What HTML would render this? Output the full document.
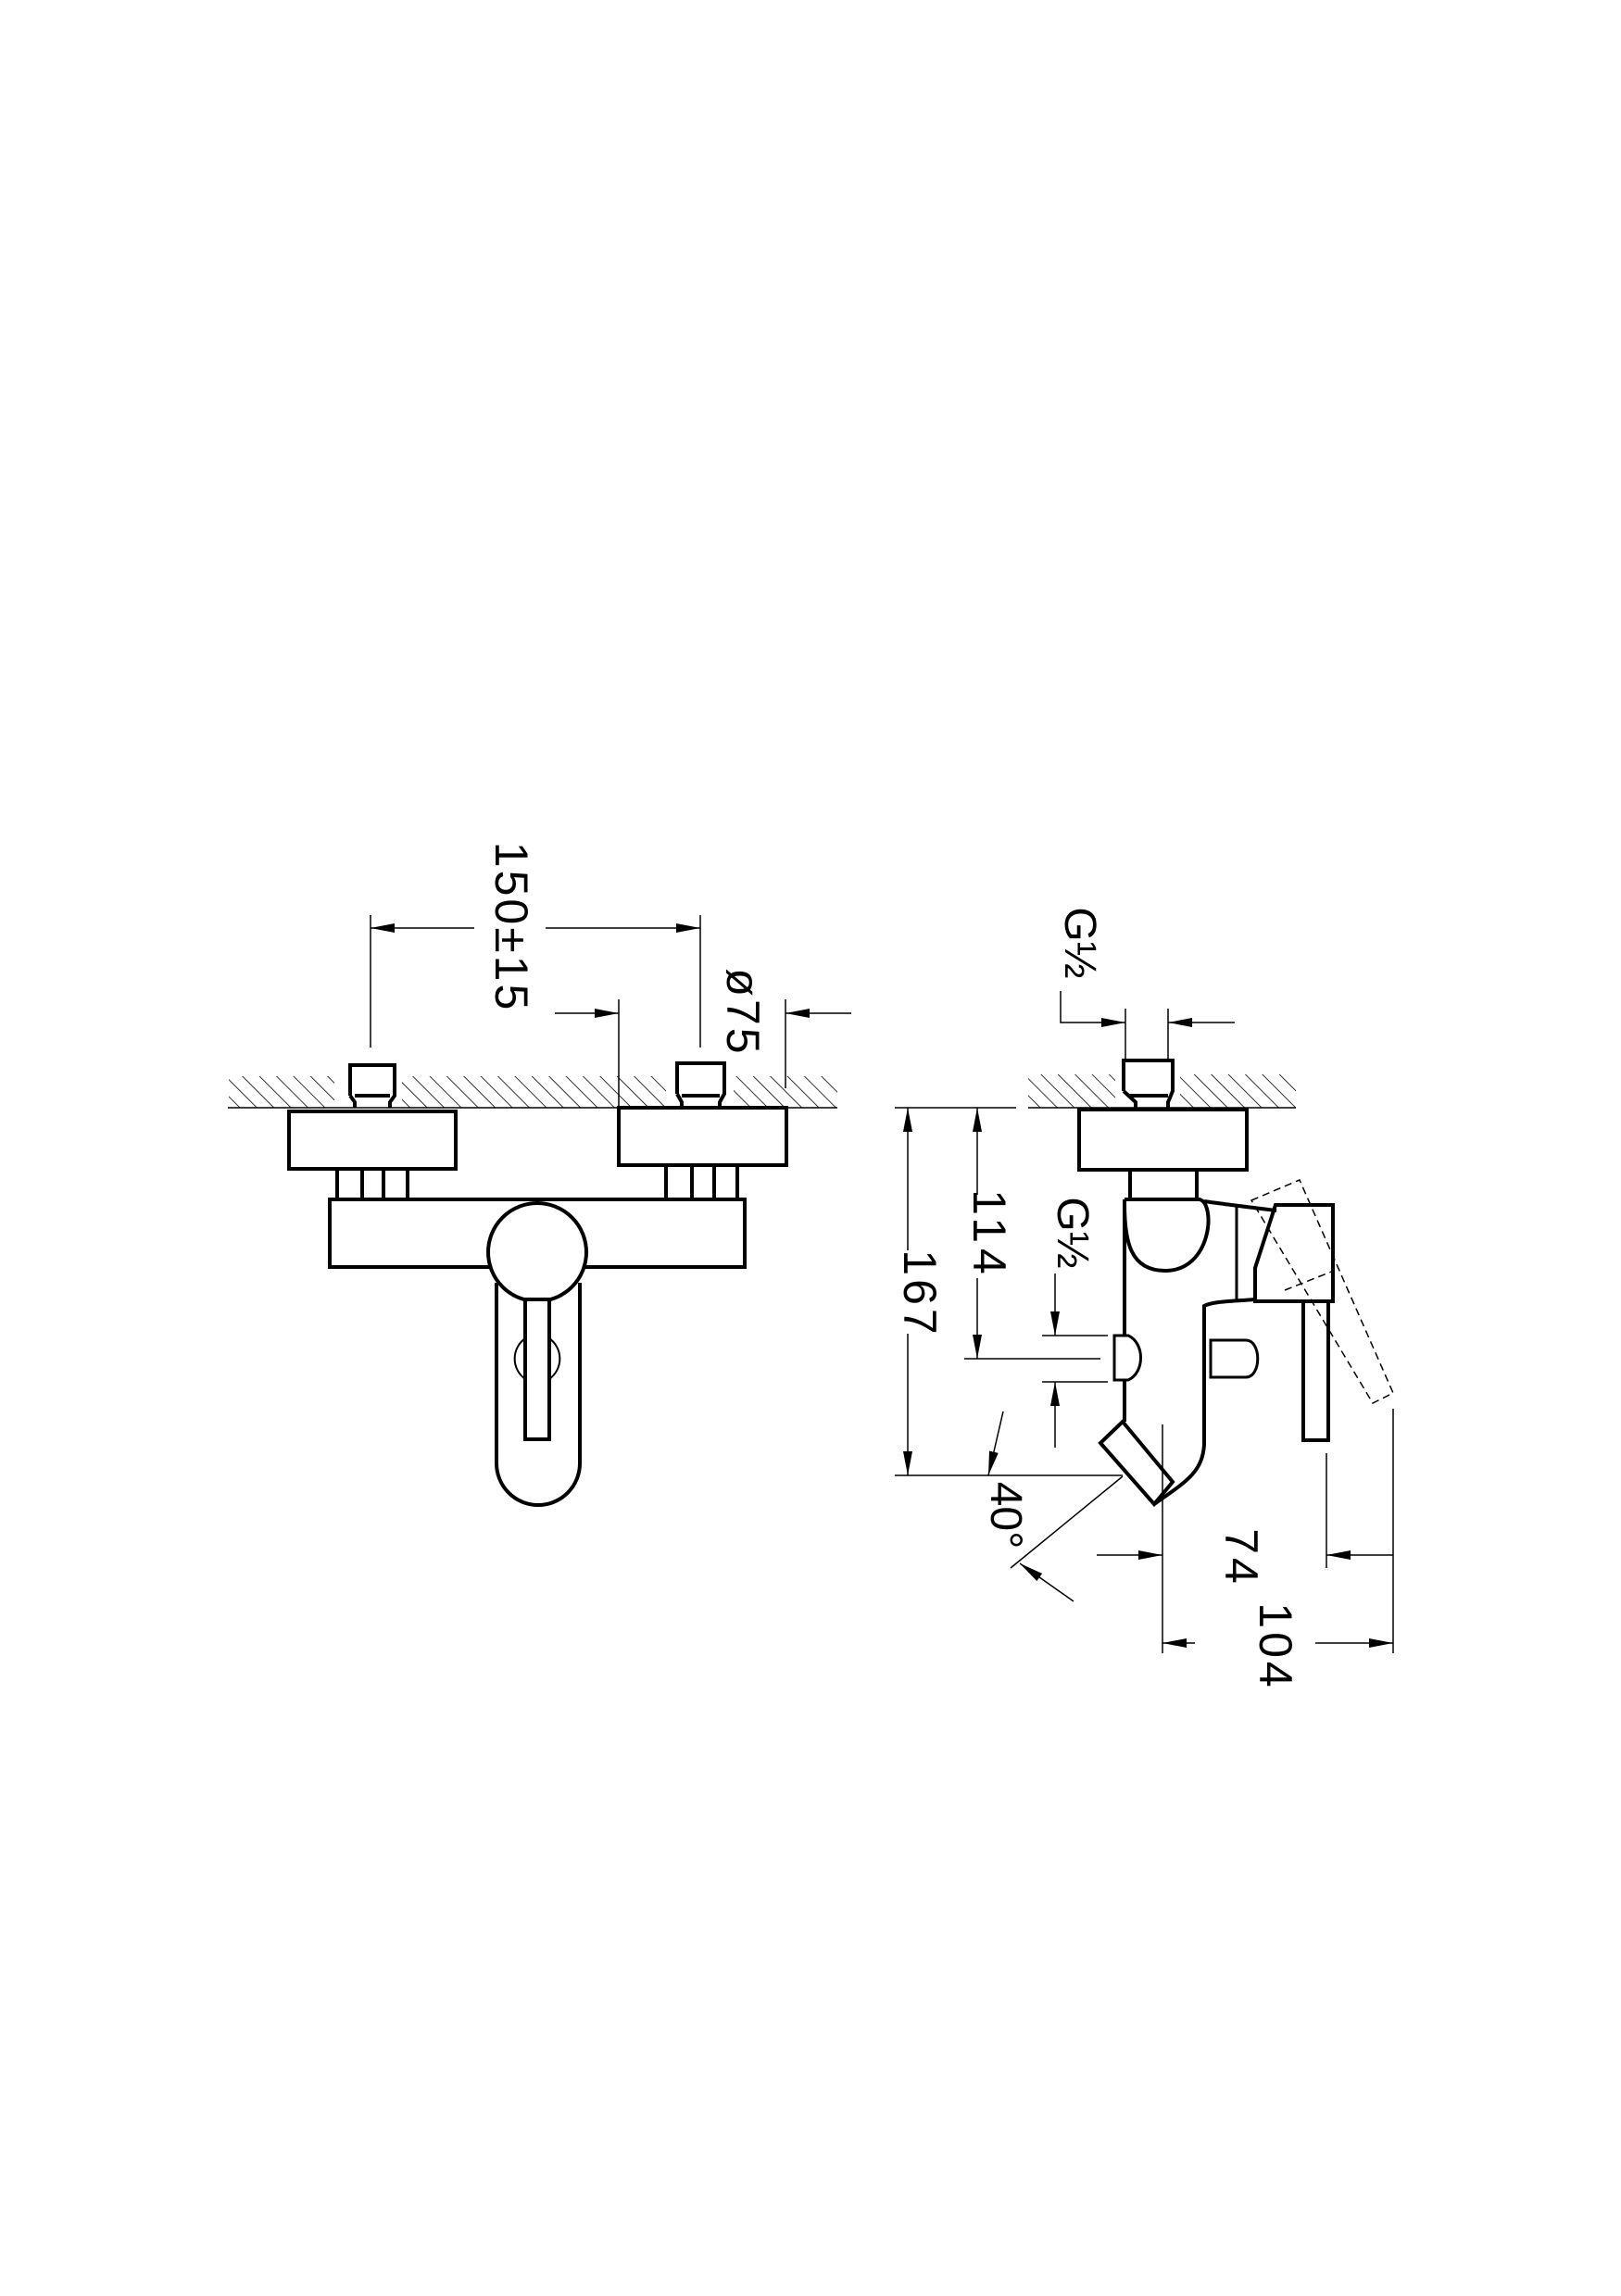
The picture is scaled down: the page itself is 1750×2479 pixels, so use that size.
<!DOCTYPE html>
<html><head><meta charset="utf-8"><style>html,body{margin:0;padding:0;background:#fff}svg{display:block}</style></head>
<body>
<svg width="1750" height="2479" viewBox="0 0 1750 2479" xmlns="http://www.w3.org/2000/svg">
<defs>
<pattern id="h" width="13" height="13" patternUnits="userSpaceOnUse" patternTransform="rotate(-45)">
<line x1="0" y1="0" x2="0" y2="13" stroke="#000" stroke-width="1.6"/>
</pattern>
<marker id="a" viewBox="0 0 26 10" refX="26" refY="5" markerWidth="26" markerHeight="10" markerUnits="userSpaceOnUse" orient="auto"><path d="M0,0 L26,5 L0,10z" fill="#000"/></marker>
</defs>
<g font-family="Liberation Sans, sans-serif" fill="#000">
<rect x="247" y="1162" width="114" height="34" fill="url(#h)"/>
<rect x="434" y="1162" width="285" height="34" fill="url(#h)"/>
<rect x="792" y="1162" width="112" height="34" fill="url(#h)"/>
<line x1="246" y1="1196" x2="904" y2="1196" stroke="#000" stroke-width="1.5"/>
<g fill="none" stroke="#000" stroke-width="4">
<path d="M378,1183 V1150 H426 V1183 L421,1190 V1196 M383,1183 H421 M378,1183 L383,1190 V1196"/>
<path d="M731,1181 V1148 H782 V1181 L777,1190 V1196 M736,1183 H777 M731,1181 L736,1190 V1196"/>
<rect x="312" y="1200" width="180" height="62"/>
<rect x="668" y="1196" width="181" height="62"/>
<path d="M364,1262 V1293 M391,1262 V1293 M414,1262 V1293 M440,1262 V1293"/>
<path d="M719,1258 V1293 M747,1258 V1293 M771,1258 V1293 M796,1258 V1293"/>
<rect x="356" y="1295" width="448" height="73"/>
<path d="M536,1385 V1580 A45,45 0 0 0 626,1580 V1385"/>
<circle cx="580" cy="1352" r="53" fill="#fff"/>
<rect x="567" y="1403" width="26" height="151" fill="#fff"/>
<path d="M567,1445 A27,27 0 0 0 567,1489 M593,1445 A27,27 0 0 1 593,1489" stroke-width="2"/>
</g>
<g stroke="#000" stroke-width="1.5" fill="none">
<line x1="400" y1="988" x2="400" y2="1131"/>
<line x1="756" y1="988" x2="756" y2="1131"/>
<line x1="512" y1="1002" x2="400" y2="1002" marker-end="url(#a)"/>
<line x1="589" y1="1002" x2="756" y2="1002" marker-end="url(#a)"/>
<line x1="668" y1="1079" x2="668" y2="1196"/>
<line x1="848" y1="1079" x2="848" y2="1175"/>
<line x1="599" y1="1094" x2="668" y2="1094" marker-end="url(#a)"/>
<line x1="919" y1="1094" x2="848" y2="1094" marker-end="url(#a)"/>
</g>
<text transform="translate(535,1001) rotate(90)" font-size="50" letter-spacing="3" text-anchor="middle">150±15</text>
<text transform="translate(785,1093) rotate(90)" font-size="50" letter-spacing="3" text-anchor="middle">ø75</text>

<rect x="1110" y="1160" width="94" height="36" fill="url(#h)"/>
<rect x="1274" y="1160" width="125" height="36" fill="url(#h)"/>
<line x1="1110" y1="1196" x2="1399" y2="1196" stroke="#000" stroke-width="1.5"/>
<g fill="none" stroke="#000" stroke-width="4">
<path d="M1213,1178 V1145 H1266 V1178 L1261,1190 V1196 M1218,1183 H1261 M1213,1178 L1226,1190 V1196"/>
<rect x="1165" y="1198" width="181" height="65"/>
<path d="M1220,1263 V1295 M1292,1263 V1295"/>
<path d="M1214,1295 H1295 C1313,1300 1308,1372 1258,1372 C1220,1372 1214,1340 1214,1300"/>
<path d="M1214,1295 V1442 M1214,1490 V1535"/>
<path d="M1300,1297 C1320,1300 1345,1303 1378,1307"/>
<path d="M1335,1303 V1403" stroke-width="3"/>
<path d="M1377,1301 H1439 V1405 H1355 V1369 Z"/>
<path d="M1407,1405 V1555 H1434 V1405"/>
<path d="M1355,1403 C1330,1405 1310,1405 1300,1410 V1560 C1298,1590 1280,1600 1246,1624"/>
<path d="M1212,1535 L1188,1558 L1246,1624 L1266,1600 Z"/>
<path d="M1203,1442 H1218 C1236,1450 1236,1482 1218,1490 H1203 Z" stroke-width="3"/>
<path d="M1307,1447 H1345 C1362,1447 1362,1487 1345,1487 H1307 Z M1300,1455 V1478" stroke-width="3"/>
</g>
<g fill="none" stroke="#000" stroke-width="1.5" stroke-dasharray="8,5">
<path d="M1351,1296 L1403,1274 L1504,1504 L1482,1515 Z"/>
<path d="M1387,1393 L1440,1372"/>
</g>
<g stroke="#000" stroke-width="1.5" fill="none">
<line x1="966" y1="1196" x2="1097" y2="1196"/>
<line x1="1041" y1="1467" x2="1188" y2="1467"/>
<line x1="966" y1="1593" x2="1212" y2="1593"/>
<line x1="980" y1="1350" x2="980" y2="1196" marker-end="url(#a)"/>
<line x1="980" y1="1440" x2="980" y2="1593" marker-end="url(#a)"/>
<line x1="1055" y1="1290" x2="1055" y2="1196" marker-end="url(#a)"/>
<line x1="1055" y1="1380" x2="1055" y2="1467" marker-end="url(#a)"/>
<line x1="1125" y1="1442" x2="1196" y2="1442"/>
<line x1="1125" y1="1492" x2="1196" y2="1492"/>
<line x1="1139" y1="1375" x2="1139" y2="1442" marker-end="url(#a)"/>
<line x1="1139" y1="1563" x2="1139" y2="1492" marker-end="url(#a)"/>
<line x1="1215" y1="1089" x2="1215" y2="1143"/>
<line x1="1261" y1="1089" x2="1261" y2="1143"/>
<path d="M1145,1070 V1104 H1215" marker-end="url(#a)"/>
<line x1="1333" y1="1104" x2="1261" y2="1104" marker-end="url(#a)"/>
<line x1="1255" y1="1538" x2="1255" y2="1785"/>
<line x1="1432" y1="1569" x2="1432" y2="1693"/>
<line x1="1504" y1="1521" x2="1504" y2="1785"/>
<line x1="1184" y1="1679" x2="1255" y2="1679" marker-end="url(#a)"/>
<line x1="1504" y1="1679" x2="1432" y2="1679" marker-end="url(#a)"/>
<line x1="1290" y1="1774" x2="1255" y2="1774" marker-end="url(#a)"/>
<line x1="1420" y1="1774" x2="1504" y2="1774" marker-end="url(#a)"/>
<line x1="1083" y1="1524" x2="1067" y2="1593" marker-end="url(#a)"/>
<line x1="1212" y1="1594" x2="1091" y2="1693"/>
<line x1="1159" y1="1729" x2="1101" y2="1688" marker-end="url(#a)"/>
</g>
<text transform="translate(1150,1018) rotate(90)" font-size="48" text-anchor="middle">G½</text>
<text transform="translate(1142,1331) rotate(90)" font-size="48" text-anchor="middle">G½</text>
<text transform="translate(976,1397) rotate(90)" font-size="50" letter-spacing="4" text-anchor="middle">167</text>
<text transform="translate(1051,1333) rotate(90)" font-size="50" letter-spacing="6" text-anchor="middle">114</text>
<text transform="translate(1323,1682) rotate(90)" font-size="50" letter-spacing="4" text-anchor="middle">74</text>
<text transform="translate(1360,1778) rotate(90)" font-size="50" letter-spacing="4" text-anchor="middle">104</text>
<text transform="translate(1070,1636) rotate(90)" font-size="48" text-anchor="middle">40°</text>
</g>
</svg>
</body></html>
